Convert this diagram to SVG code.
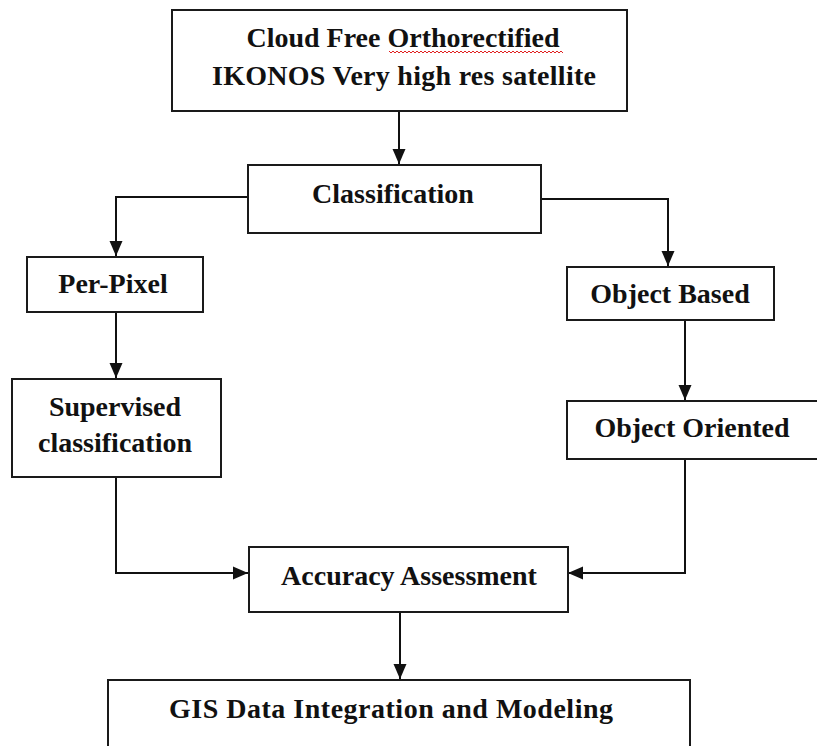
<svg xmlns="http://www.w3.org/2000/svg" width="817" height="746" viewBox="0 0 817 746">
  <style>
    .box { fill: #ffffff; stroke: #1a1a1a; stroke-width: 2; }
    .lbl { font-family: "Liberation Serif", "Times New Roman", serif; font-weight: bold; font-size: 28px; fill: #111111; text-anchor: middle; }
    .wire { fill: none; stroke: #111111; stroke-width: 2; }
    .squiggle { fill: none; stroke: #e02020; stroke-width: 1; }
  </style>
  <defs>
    <marker id="arrow" markerUnits="userSpaceOnUse" markerWidth="16" markerHeight="16" viewBox="0 0 16 16" refX="15" refY="8" orient="auto">
      <path d="M0,1.5 L15,8 L0,14.5 Z" fill="#111111"/>
    </marker>
  </defs>
  <rect width="817" height="746" fill="#ffffff"/>

  <!-- connectors -->
  <g id="connectors">
    <path class="wire" d="M399,111 L399,164" marker-end="url(#arrow)"/>
    <path class="wire" d="M248,197 L116,197 L116,256" marker-end="url(#arrow)"/>
    <path class="wire" d="M541,199 L668,199 L668,266" marker-end="url(#arrow)"/>
    <path class="wire" d="M116,312 L116,378" marker-end="url(#arrow)"/>
    <path class="wire" d="M685,320 L685,400" marker-end="url(#arrow)"/>
    <path class="wire" d="M116,477 L116,573 L248,573" marker-end="url(#arrow)"/>
    <path class="wire" d="M685,459 L685,573 L568,573" marker-end="url(#arrow)"/>
    <path class="wire" d="M400,612 L400,679" marker-end="url(#arrow)"/>
  </g>

  <g id="source">
    <rect class="box" x="172" y="10" width="455" height="101"/>
    <text class="lbl" x="403" y="47">Cloud Free Orthorectified</text>
    <text class="lbl" x="404" y="85" textLength="384" lengthAdjust="spacing">IKONOS  Very high res satellite</text>
    <!-- spell-check underline -->
    <polyline class="squiggle" points="389,51 391,53 393,51 395,53 397,51 399,53 401,51 403,53 405,51 407,53 409,51 411,53 413,51 415,53 417,51 419,53 421,51 423,53 425,51 427,53 429,51 431,53 433,51 435,53 437,51 439,53 441,51 443,53 445,51 447,53 449,51 451,53 453,51 455,53 457,51 459,53 461,51 463,53 465,51 467,53 469,51 471,53 473,51 475,53 477,51 479,53 481,51 483,53 485,51 487,53 489,51 491,53 493,51 495,53 497,51 499,53 501,51 503,53 505,51 507,53 509,51 511,53 513,51 515,53 517,51 519,53 521,51 523,53 525,51 527,53 529,51 531,53 533,51 535,53 537,51 539,53 541,51 543,53 545,51 547,53 549,51 551,53 553,51 555,53 557,51 559,53 561,51 563,53"/>
  </g>

  <g id="classification">
    <rect class="box" x="248" y="165" width="293" height="68"/>
    <text class="lbl" x="393" y="203">Classification</text>
  </g>

  <g id="per-pixel">
    <rect class="box" x="27" y="257" width="176" height="55"/>
    <text class="lbl" x="113" y="293">Per-Pixel</text>
  </g>

  <g id="object-based">
    <rect class="box" x="567" y="267" width="207" height="53"/>
    <text class="lbl" x="670" y="303">Object Based</text>
  </g>

  <g id="supervised">
    <rect class="box" x="12" y="379" width="209" height="98"/>
    <text class="lbl" x="115" y="416">Supervised</text>
    <text class="lbl" x="115" y="452">classification</text>
  </g>

  <g id="object-oriented">
    <rect class="box" x="567" y="401" width="263" height="58"/>
    <text class="lbl" x="692" y="437">Object Oriented</text>
  </g>

  <g id="accuracy">
    <rect class="box" x="249" y="547" width="319" height="65"/>
    <text class="lbl" x="409" y="585">Accuracy Assessment</text>
  </g>

  <g id="gis">
    <rect class="box" x="108" y="680" width="582" height="90"/>
    <text class="lbl" x="391" y="718" textLength="444" lengthAdjust="spacing">GIS Data Integration and Modeling</text>
  </g>
</svg>
